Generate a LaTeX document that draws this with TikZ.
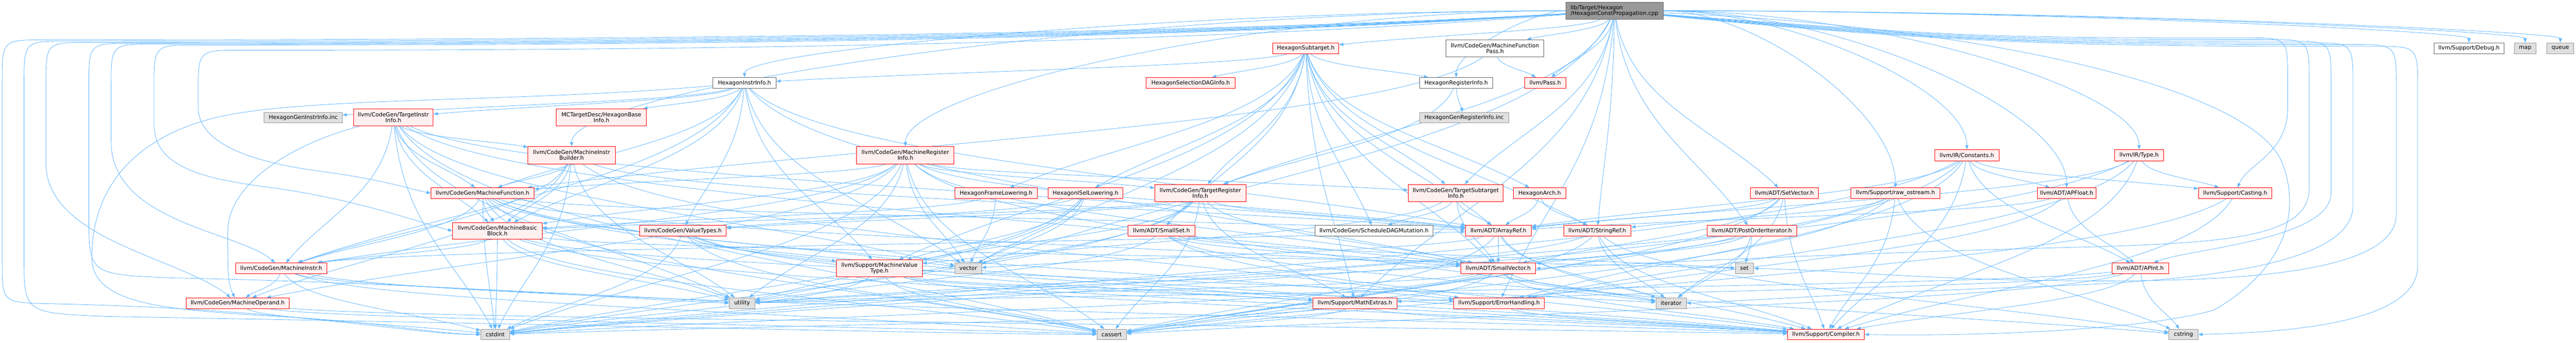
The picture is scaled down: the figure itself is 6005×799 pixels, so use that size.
\documentclass[tikz,border=0pt]{standalone}
\usepackage{fontspec}
\setmainfont{DejaVu Sans}
\usetikzlibrary{arrows.meta,calc}
\definecolor{edgec}{HTML}{63B8FF}
\definecolor{redfill}{HTML}{FFF0F0}
\definecolor{grayfill}{HTML}{E0E0E0}
\definecolor{graybd}{HTML}{999999}
\definecolor{darkbd}{HTML}{666666}
\definecolor{rootfill}{HTML}{999999}
\pgfdeclarelayer{bg}
\pgfsetlayers{bg,main}
\newcommand\nd[7]{\node[#1, minimum width=#2pt, minimum height=#3pt] (#4) at (#5,#6) {#7};}
\newcommand\laneL[2]{(root) .. controls (2600,#2) and ({#1+700},#2) .. ({#1+100},#2) .. controls (#1,#2) .. (#1,{#2+100})}
\newcommand\laneR[2]{(root) .. controls (4600,#2) and ({#1-700},#2) .. ({#1-100},#2) .. controls (#1,#2) .. (#1,{#2+100})}
\begin{document}
\begin{tikzpicture}[x=1pt,y=-1pt,
 boxn/.style={draw, line width=1.2pt, inner sep=0pt, font=\fontsize{13}{13.3}\selectfont, align=center, text=black},
 rn/.style={boxn, draw=red, fill=redfill},
 gn/.style={boxn, draw=graybd, fill=grayfill},
 wn/.style={boxn, draw=darkbd, fill=white},
 rootn/.style={boxn, draw=darkbd, fill=rootfill, align=left},
 dep/.style={draw=edgec, line width=1pt, -{Triangle[length=10pt,width=7.5pt]}},
 gen/.style={to path={let \p1=(\tikztostart), \p2=(\tikztotarget) in .. controls ({\x1+0.1*(\x2-\x1)},{\y1+0.5*(\y2-\y1)}) and ({\x2+0.4*(\x1-\x2)},{\y2+0.35*(\y1-\y2)}) .. (\tikztotarget)}},
 rt/.style={to path={let \p1=(\tikztostart), \p2=(\tikztotarget) in .. controls ({0.5*(\x1+\x2)},\y1) and (\x2,{\y1+0.55*(\y2-\y1)}) .. (\tikztotarget)}},
]
\useasboundingbox (0,0) rectangle (6005,799);
% nodes
\nd{rootn}{227}{40}{root}{3763.5}{25}{lib/Target/Hexagon\\/HexagonConstPropagation.cpp}
\nd{rn}{154}{25}{hsub}{3044}{112.5}{HexagonSubtarget.h}
\nd{wn}{228}{40}{mfp}{3485}{113}{llvm/CodeGen/MachineFunction\\Pass.h}
\nd{wn}{163}{25}{dbg}{5755.5}{112.5}{llvm/Support/Debug.h}
\nd{gn}{51}{25}{map}{5886.5}{112.5}{map}
\nd{gn}{63}{25}{queue}{5968.5}{112.5}{queue}
\nd{wn}{147}{25}{hii}{1735.5}{193.5}{HexagonInstrInfo.h}
\nd{wn}{171}{25}{hri}{3394.5}{193.5}{HexagonRegisterInfo.h}
\nd{rn}{96}{25}{pass}{3602}{193.5}{llvm/Pass.h}
\nd{rn}{207}{25}{hsel}{2775.5}{193.5}{HexagonSelectionDAGInfo.h}
\nd{gn}{182}{25}{ginc}{707}{274.5}{HexagonGenInstrInfo.inc}
\nd{rn}{186}{40}{tii}{917}{274}{llvm/CodeGen/TargetInstr\\Info.h}
\nd{rn}{210}{40}{hbi}{1402}{274}{MCTargetDesc/HexagonBase\\Info.h}
\nd{gn}{208}{25}{grinc}{3413}{274.5}{HexagonGenRegisterInfo.inc}
\nd{rn}{203}{40}{mib}{1332.5}{362}{llvm/CodeGen/MachineInstr\\Builder.h}
\nd{rn}{227}{40}{mri}{2110.5}{362}{llvm/CodeGen/MachineRegister\\Info.h}
\nd{rn}{150}{26}{cons}{4585}{362}{llvm/IR/Constants.h}
\nd{rn}{115}{26}{type}{4986.5}{362}{llvm/IR/Type.h}
\nd{rn}{240}{25}{mf}{1125}{450.5}{llvm/CodeGen/MachineFunction.h}
\nd{rn}{192}{25}{hfl}{2322}{450.5}{HexagonFrameLowering.h}
\nd{rn}{175}{25}{hisl}{2530.5}{450.5}{HexagonISelLowering.h}
\nd{rn}{212}{40}{tri}{2798}{450}{llvm/CodeGen/TargetRegister\\Info.h}
\nd{rn}{221}{40}{tsi}{3393.5}{450}{llvm/CodeGen/TargetSubtarget\\Info.h}
\nd{rn}{122}{25}{arch}{3589}{450.5}{HexagonArch.h}
\nd{rn}{159}{25}{setv}{4159.5}{450.5}{llvm/ADT/SetVector.h}
\nd{rn}{207}{25}{raw}{4418.5}{450.5}{llvm/Support/raw\_ostream.h}
\nd{rn}{137}{25}{apf}{4817.5}{450.5}{llvm/ADT/APFloat.h}
\nd{rn}{171}{25}{cast}{5210.5}{450.5}{llvm/Support/Casting.h}
\nd{rn}{209}{39}{mbb}{1159.5}{538.5}{llvm/CodeGen/MachineBasic\\Block.h}
\nd{rn}{202}{25}{vt}{1592}{538.5}{llvm/CodeGen/ValueTypes.h}
\nd{rn}{157}{25}{sset}{2707.5}{538.5}{llvm/ADT/SmallSet.h}
\nd{wn}{276}{25}{sdm}{3203}{538.5}{llvm/CodeGen/ScheduleDAGMutation.h}
\nd{rn}{154}{25}{aref}{3493}{538.5}{llvm/ADT/ArrayRef.h}
\nd{rn}{157}{25}{sref}{3723.5}{538.5}{llvm/ADT/StringRef.h}
\nd{rn}{209}{25}{poi}{4083.5}{538.5}{llvm/ADT/PostOrderIterator.h}
\nd{rn}{213}{25}{mi}{655.5}{626}{llvm/CodeGen/MachineInstr.h}
\nd{rn}{200}{40}{mvt}{2050}{626}{llvm/Support/MachineValue\\Type.h}
\nd{gn}{62}{25}{vec}{2257}{626}{vector}
\nd{rn}{175}{25}{svec}{3492.5}{626}{llvm/ADT/SmallVector.h}
\nd{gn}{43}{25}{set}{4066.5}{626}{set}
\nd{rn}{132}{25}{apint}{4989}{626}{llvm/ADT/APInt.h}
\nd{rn}{240}{25}{mo}{554}{707}{llvm/CodeGen/MachineOperand.h}
\nd{gn}{60}{25}{util}{1730}{707}{utility}
\nd{rn}{195}{25}{mex}{3158.5}{707}{llvm/Support/MathExtras.h}
\nd{rn}{211}{25}{err}{3494.5}{707}{llvm/Support/ErrorHandling.h}
\nd{gn}{71}{25}{iter}{3895.5}{707}{iterator}
\nd{gn}{67}{25}{cstdint}{1154.5}{780}{cstdint}
\nd{gn}{69}{25}{cassert}{2591.5}{780}{cassert}
\nd{rn}{179}{25}{comp}{4256.5}{780}{llvm/Support/Compiler.h}
\nd{gn}{68}{25}{cstring}{5090}{780}{cstring}
\begin{pgfonlayer}{bg}
\fill[white] (0,0) rectangle (6005,799);
% root edges
\foreach \ta in {mfp,pass,sref,hsub,tri,tsi,err,mex,vec,poi,setv}{\draw[dep] (root) to[gen] (\ta);}
\foreach \ta in {hii,hri,mib,mri,cons,raw,apf,type,dbg,map,queue}{\draw[dep] (root) to[rt] (\ta);}
\draw[dep] \laneL{5}{93} -- (5,610) .. controls (5,705) .. (105,708) .. controls (700,720) and (950,780) .. (cstdint.west);
\draw[dep] \laneL{56}{96} -- (56,600) .. controls (56,730) .. (250,738) .. controls (1500,760) and (2300,780) .. (cassert.west);
\draw[dep] \laneL{107}{99} -- (107,380) .. controls (107,560) and (420,600) .. (mo);
\draw[dep] \laneL{207}{101} -- (207,500) .. controls (207,640) .. (400,648) .. controls (1000,660) and (1500,700) .. (util.west);
\draw[dep] \laneL{259}{103} -- (259,330) .. controls (259,520) and (560,540) .. (mi);
\draw[dep] \laneL{359}{105} -- (359,290) .. controls (359,400) and (500,420) .. (650,440) .. controls (850,470) and (980,520) .. (mbb.west);
\draw[dep] \laneL{462}{117} -- (462,250) .. controls (462,340) and (600,380) .. (750,400) .. controls (900,420) and (950,440) .. (mf.west);
\draw[dep] \laneR{5333}{88} -- (5333,250) .. controls (5333,360) and (5240,380) .. (cast);
\draw[dep] \laneR{5383}{92} -- (5383,440) .. controls (5383,550) and (5200,565) .. (4900,575) .. controls (4300,590) and (3800,615) .. (svec.east);
\draw[dep] \laneR{5434}{96} -- (5434,450) .. controls (5434,560) and (5100,580) .. (apint);
\draw[dep] \laneR{5485}{100} -- (5485,480) .. controls (5485,640) and (5000,660) .. (4700,670) .. controls (4300,685) and (4100,700) .. (iter.east);
\draw[dep] \laneR{5586}{104} -- (5586,500) .. controls (5586,640) and (5200,655) .. (4900,655) .. controls (4500,655) and (4300,630) .. (set.east);
\draw[dep] \laneR{5636}{108} -- (5636,620) .. controls (5636,750) and (5350,775) .. (cstring.east);
\draw[dep] (root) .. controls (4600,60) and (5250,200) .. (5320,380) .. controls (5360,480) and (5340,620) .. (5161,723) .. controls (5000,770) and (4600,785) .. (comp.east);
% secondary detours
\draw[dep] (hii) .. controls (1200,240) and (700,225) .. (500,275) .. controls (300,325) and (214,450) .. (214,600) .. controls (214,715) and (400,722) .. (650,738) .. controls (900,752) and (1000,778) .. (cstdint.west);
\draw[dep] (tii) .. controls (700,330) and (531,420) .. (531,540) .. controls (531,620) and (530,660) .. (mo);
% other edges
\foreach \sa/\ta in {
 hsub/hsel,hsub/hri,hsub/hii,hsub/tsi,hsub/sdm,hsub/tri,hsub/hfl,hsub/hisl,hsub/arch,hsub/sset,hsub/sref,hsub/mvt,hsub/aref,hsub/svec,hsub/vec,hsub/mex,
 hri/grinc,hri/tri,mfp/pass,mfp/mf,
 hii/hbi,hii/vt,hii/mvt,hii/aref,hii/svec,hii/tii,hii/ginc,hii/mbb,hii/mf,hii/mi,hii/vec,
 tii/mib,tii/mf,tii/mbb,tii/mi,tii/cstdint,tii/util,tii/aref,tii/cassert,tii/vec,tii/svec,
 mib/mf,mib/mbb,mib/mi,mib/mo,mib/err,mib/cstdint,mib/util,mib/aref,
 mri/mbb,mri/mf,mri/mi,mri/mo,mri/tri,mri/aref,mri/svec,mri/iter,mri/util,mri/vec,mri/cassert,mri/cstdint,mri/tsi,
 mf/mbb,mf/mi,mf/aref,mf/svec,mf/comp,mf/cassert,mf/cstdint,mf/util,mf/vec,mf/err,
 mbb/mi,mbb/cstdint,mbb/cassert,mbb/iter,mbb/comp,mbb/util,mbb/set,
 mi/mo,mi/aref,mi/cassert,mi/cstdint,mi/util,mi/comp,
 mo/cassert,mo/cstdint,mo/comp,
 vt/mvt,vt/mex,vt/cassert,vt/cstdint,vt/comp,
 mvt/mex,mvt/err,mvt/cassert,mvt/cstdint,mvt/comp,
 tri/mbb,tri/vt,tri/mvt,tri/aref,tri/svec,tri/mex,tri/cassert,tri/cstdint,tri/util,
 tsi/sdm,tsi/aref,tsi/svec,tsi/mvt,
 hfl/vec,hfl/mbb,
 hisl/mvt,hisl/vt,hisl/vec,hisl/cstdint,hisl/util,
 arch/aref,arch/sref,
 sset/svec,sset/util,sset/set,sset/comp,sset/iter,
 aref/svec,aref/comp,aref/cassert,aref/iter,aref/vec,
 sref/iter,sref/comp,sref/cassert,sref/cstring,sref/util,
 poi/set,poi/svec,poi/iter,poi/util,
 setv/aref,setv/svec,setv/comp,setv/cassert,setv/iter,
 svec/comp,svec/cassert,svec/cstdint,svec/cstring,svec/iter,svec/util,
 mex/comp,mex/cassert,mex/cstdint,
 err/comp,
 raw/sref,raw/comp,raw/cassert,raw/cstdint,raw/cstring,
 cons/apf,cons/apint,cons/aref,cons/cast,cons/comp,cons/err,cons/cassert,cons/cstdint,
 apf/apint,apf/aref,apf/err,
 type/cast,type/aref,type/comp,type/err,type/cstdint,
 cast/comp,cast/cassert,
 apint/comp,apint/mex,apint/cassert,apint/cstring,apint/util}
 {\draw[dep] (\sa) to[gen] (\ta);}
\end{pgfonlayer}
\end{tikzpicture}
\end{document}
